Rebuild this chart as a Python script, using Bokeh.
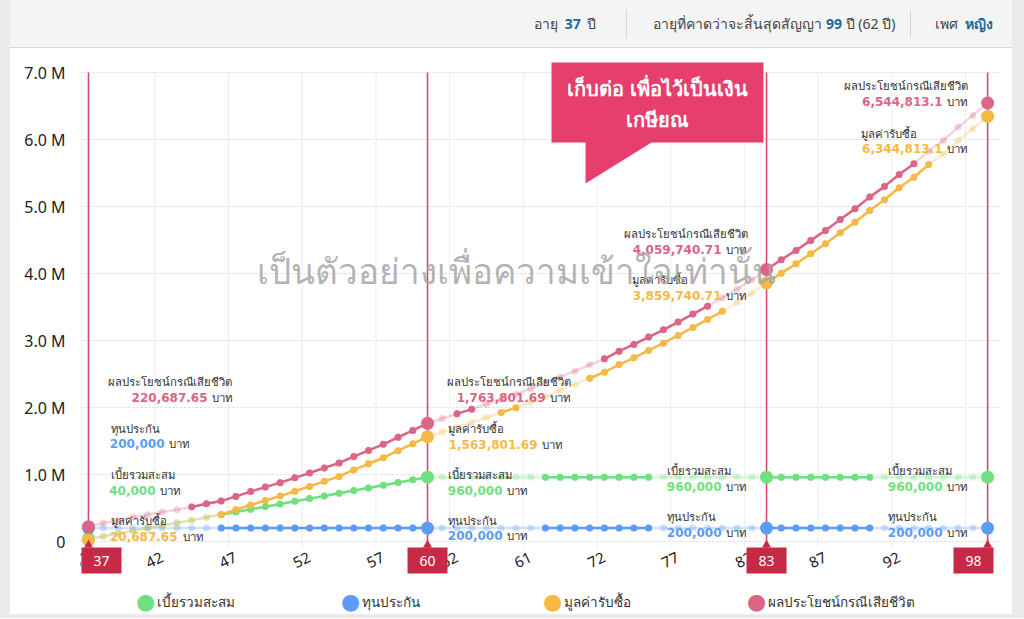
from bokeh.plotting import figure
from bokeh.models import Range1d, FixedTicker, Label, Div
from bokeh.layouts import column, row
from bokeh.embed import file_html
from bokeh.resources import INLINE

# ---------------- data ----------------
ages = list(range(37, 99))

series_names = ["เบี้ยรวมสะสม", "ทุนประกัน", "มูลค่ารับซื้อ", "ผลประโยชน์กรณีเสียชีวิต"]

premium_total = [
    40000, 80000, 120000, 160000, 200000, 240000, 280000, 320000, 360000, 400000,
    440000, 480000, 520000, 560000, 600000, 640000, 680000, 720000, 760000, 800000,
    840000, 880000, 920000, 960000, 960000, 960000, 960000, 960000, 960000, 960000,
    960000, 960000, 960000, 960000, 960000, 960000, 960000, 960000, 960000, 960000,
    960000, 960000, 960000, 960000, 960000, 960000, 960000, 960000, 960000, 960000,
    960000, 960000, 960000, 960000, 960000, 960000, 960000, 960000, 960000, 960000,
    960000, 960000,
]

sum_assured = [
    200000, 200000, 200000, 200000, 200000, 200000, 200000, 200000, 200000, 200000,
    200000, 200000, 200000, 200000, 200000, 200000, 200000, 200000, 200000, 200000,
    200000, 200000, 200000, 200000, 200000, 200000, 200000, 200000, 200000, 200000,
    200000, 200000, 200000, 200000, 200000, 200000, 200000, 200000, 200000, 200000,
    200000, 200000, 200000, 200000, 200000, 200000, 200000, 200000, 200000, 200000,
    200000, 200000, 200000, 200000, 200000, 200000, 200000, 200000, 200000, 200000,
    200000, 200000,
]

cash_value = [
    20687.65, 75000, 115000, 162000, 199000, 239000, 275000, 315000, 362000, 403000,
    473000, 545000, 612000, 678000, 750000, 822000, 898000, 972000, 1068000, 1160000,
    1250000, 1355000, 1458000, 1563801.69, 1635000, 1705000, 1775000, 1850000, 1925000, 1998000,
    2080000, 2165000, 2255000, 2345000, 2437000, 2527000, 2640000, 2742000, 2851000, 2960000,
    3075000, 3195000, 3313000, 3437000, 3568000, 3705000, 3859740.71, 4005000, 4145000, 4294000,
    4443000, 4607000, 4766000, 4940000, 5100000, 5279000, 5437000, 5627000, 5786000, 5985000,
    6160000, 6344813.1,
]

death_benefit = [
    220687.65, 275000, 315000, 362000, 399000, 439000, 475000, 515000, 562000, 603000,
    673000, 745000, 812000, 878000, 950000, 1022000, 1098000, 1172000, 1268000, 1360000,
    1450000, 1555000, 1658000, 1763801.69, 1835000, 1905000, 1975000, 2050000, 2125000, 2198000,
    2280000, 2365000, 2455000, 2545000, 2637000, 2727000, 2840000, 2942000, 3051000, 3160000,
    3275000, 3395000, 3513000, 3637000, 3768000, 3905000, 4059740.71, 4205000, 4345000, 4494000,
    4643000, 4807000, 4966000, 5140000, 5300000, 5479000, 5637000, 5827000, 5986000, 6185000,
    6360000, 6544813.1,
]

milestone_ages = [37, 60, 83, 98]

x_tick_values = [37, 42, 47, 52, 57, 62, 67, 72, 77, 82, 87, 92, 97]
x_tick_labels = ["37", "42", "47", "52", "57", "62", "61", "72", "77", "82", "87", "92", "97"]
y_tick_values = [0, 1000000, 2000000, 3000000, 4000000, 5000000, 6000000, 7000000]
y_tick_labels = ["0", "1.0 M", "2.0 M", "3.0 M", "4.0 M", "5.0 M", "6.0 M", "7.0 M"]

header_age = 37
header_end_age = 99
header_years = 62
header_sex = "หญิง"

callout_lines = ["เก็บต่อ เพื่อไว้เป็นเงิน", "เกษียณ"]
watermark_text = "เป็นตัวอย่างเพื่อความเข้าใจเท่านั้น"
unit_text = "บาท"

# ---------------- style / layout ----------------
GREEN, BLUE, ORANGE, PINK = "#6fe07f", "#5c9cf6", "#f6b947", "#db6584"
series_values = [premium_total, sum_assured, cash_value, death_benefit]
series_colors = [GREEN, BLUE, ORANGE, PINK]
# age ranges drawn at full opacity (the rest of each line is faded)
highlight_ranges = [
    [(46, 60), (68, 75), (83, 90)],
    [(46, 60), (68, 75), (83, 90)],
    [(46, 60), (65, 66), (71, 80), (83, 94)],
    [(44, 60), (62, 63), (72, 79), (83, 93)],
]

FONT = "Noto Sans"
TXT = "#333333"
RED = "#c72a47"
PAGE_BG = "#ebebeb"

# page-pixel mapping (figure occupies page x 10..1012, y 48..614)
PX_YEAR = 14.74
AGE0_X = 88.0
ZERO_Y = 541.0
PX_M = 67.0


def dx(px):
    return ages[0] + (px - AGE0_X) / PX_YEAR


def dy(py):
    return (ZERO_Y - py) / PX_M * 1e6


def fmt(v):
    return f"{v:,.2f}".rstrip("0").rstrip(".")


FIG_W, FIG_H = 1002, 566
p = figure(
    width=FIG_W, height=FIG_H,
    x_range=Range1d(dx(80), dx(1000)),
    y_range=Range1d(dy(614), dy(58)),
    x_axis_type=None,
    output_backend="svg", toolbar_location=None,
    min_border_left=70, min_border_right=12, min_border_top=10, min_border_bottom=0,
    background_fill_color="white", border_fill_color="white",
)
p.outline_line_color = None

# y axis
p.yaxis.ticker = FixedTicker(ticks=y_tick_values)
p.yaxis.major_label_overrides = dict(zip(y_tick_values, y_tick_labels))
p.yaxis.axis_line_color = None
p.yaxis.major_tick_line_color = None
p.yaxis.minor_tick_line_color = None
p.yaxis.major_tick_out = 0
p.yaxis.major_tick_in = 0
p.yaxis.major_label_standoff = 15
p.yaxis.major_label_text_font = FONT
p.yaxis.major_label_text_font_size = "16px"
p.yaxis.major_label_text_color = "#222222"

p.ygrid.ticker = FixedTicker(ticks=y_tick_values)
p.ygrid.grid_line_color = "#d9d9d9"
p.ygrid.grid_line_dash = "2 2"

top_val = y_tick_values[-1]
bottom_val = dy(548)

# vertical grid lines (between categories)
grid_x = [t - 0.5 for t in x_tick_values]
p.segment(x0=grid_x, y0=[bottom_val] * len(grid_x), x1=grid_x, y1=[top_val] * len(grid_x),
          line_color="#eeeeee", line_width=1)

# x tick labels (rotated)
for t, lab in zip(x_tick_values, x_tick_labels):
    p.add_layout(Label(x=t, y=dy(556), text=lab, angle=0.45, text_color="#222222",
                       text_font=FONT, text_font_size="15px",
                       text_align="right", text_baseline="middle"))

# milestone vertical lines
p.segment(x0=milestone_ages, y0=[bottom_val] * len(milestone_ages),
          x1=milestone_ages, y1=[top_val] * len(milestone_ages),
          line_color="#d84a6c", line_width=1.6)

# series
for vals, col, ranges in zip(series_values, series_colors, highlight_ranges):
    p.line(ages, vals, line_color=col, line_width=2.5, line_alpha=0.28)
    p.scatter(ages, vals, size=7, fill_color=col, line_color=None, fill_alpha=0.28)
    for a, b in ranges:
        i0, i1 = ages.index(a), ages.index(b) + 1
        p.line(ages[i0:i1], vals[i0:i1], line_color=col, line_width=2.5)
        p.scatter(ages[i0:i1], vals[i0:i1], size=7, fill_color=col, line_color=None)
    idx = [ages.index(m) for m in milestone_ages]
    p.scatter([ages[i] for i in idx], [vals[i] for i in idx], size=13,
              fill_color=col, line_color=None)

# bottom milestone markers (pointer + box)
p.scatter(milestone_ages, [dy(544.5)] * len(milestone_ages), marker="triangle",
          size=9, fill_color=RED, line_color=None)
for m in milestone_ages:
    mx = AGE0_X + (m - ages[0]) * PX_YEAR
    cx = min(max(mx, 80 + 21), 994 - 21)
    p.add_layout(Label(x=dx(cx), y=dy(560), text=str(m), text_color="white",
                       text_font=FONT, text_font_size="14px",
                       text_align="center", text_baseline="middle",
                       background_fill_color=RED,
                       padding=dict(left=12, right=12, top=8, bottom=8)))

# value annotations at milestones: (title_x, title_align, value_end_x, unit_x, title_y, value_y)
annot = {
    37: {3: (231, "right", 207, 211, 381, 397), 1: (110, "left", 164, 168, 428, 443),
         0: (110, "left", 155, 159, 474, 490), 2: (110, "left", 177, 182, 520, 536)},
    60: {3: (570, "right", 545, 549, 381, 397), 2: (447, "left", 537, 541, 428, 444),
         0: (447, "left", 502, 506, 474, 490), 1: (447, "left", 502, 506, 520, 535)},
    83: {3: (747, "right", 721, 725, 233, 249), 2: (631, "left", 721, 725, 279, 295),
         0: (666, "left", 721, 725, 470, 486), 1: (666, "left", 721, 725, 516, 532)},
    98: {3: (967, "right", 942, 946, 85, 101), 2: (860, "left", 942, 946, 133, 148),
         0: (887, "left", 942, 946, 470, 486), 1: (887, "left", 942, 946, 516, 532)},
}
for m, groups in annot.items():
    i = ages.index(m)
    for s, (tx, talign, vend, ux, ty, vy) in groups.items():
        p.add_layout(Label(x=dx(tx), y=dy(ty), text=series_names[s], text_color=TXT,
                           text_font=FONT, text_font_size="11.3px",
                           text_align=talign, text_baseline="middle"))
        p.add_layout(Label(x=dx(vend), y=dy(vy), text=fmt(series_values[s][i]),
                           text_color=series_colors[s], text_font="DejaVu Sans",
                           text_font_size="12px", text_font_style="bold",
                           text_align="right", text_baseline="middle"))
        p.add_layout(Label(x=dx(ux), y=dy(vy), text=unit_text, text_color=TXT,
                           text_font=FONT, text_font_size="11.5px",
                           text_align="left", text_baseline="middle"))

# watermark
p.add_layout(Label(x=dx(516), y=dy(270), text=watermark_text, text_color="#a6a6a6",
                   text_alpha=0.85, text_font=FONT, text_font_size="35px",
                   text_align="center", text_baseline="middle"))

# callout
cx_pts = [551, 763, 763, 651, 585, 585, 551]
cy_pts = [62, 62, 142, 142, 183, 142, 142]
p.patch([dx(v) for v in cx_pts], [dy(v) for v in cy_pts], fill_color="#e63e6d",
        line_color=None)
for k, line in enumerate(callout_lines):
    p.add_layout(Label(x=dx(657), y=dy(88 + 31 * k), text=line, text_color="white",
                       text_font=FONT, text_font_size="20px", text_font_style="bold",
                       text_align="center", text_baseline="middle"))

# legend (drawn manually below the chart)
legend_x = [145, 350, 552, 756]
for name, col, lx in zip(series_names, series_colors, legend_x):
    p.add_layout(Label(x=dx(lx), y=dy(601), text="●", text_color=col,
                       text_font="DejaVu Sans", text_font_size="22px",
                       text_align="center", text_baseline="middle"))
    p.add_layout(Label(x=dx(lx + 11), y=dy(601), text=name, text_color=TXT,
                       text_font=FONT, text_font_size="13.5px",
                       text_align="left", text_baseline="middle"))

# header
num = "font-weight:bold;color:#1f6a98"


def sep(ml, mr):
    return (f'<span style="display:inline-block;width:1px;height:28px;background:#d6d6d6;'
            f'margin:0 {mr}px 0 {ml}px"></span>')


header_html = (
    f'<div style="width:1024px;height:48px;background:{PAGE_BG};">'
    '<div style="margin-left:10px;width:1002px;height:48px;box-sizing:border-box;background:#f4f4f4;'
    'border-bottom:1px solid #d8d8d8;display:flex;justify-content:flex-end;align-items:center;'
    "padding-right:19px;font-family:'Noto Sans',sans-serif;font-size:14px;color:#444\">"
    f'<span style="word-spacing:3px">อายุ <span style="{num}">{header_age}</span> ปี</span>{sep(30, 26)}'
    f'<span>อายุที่คาดว่าจะสิ้นสุดสัญญา <span style="{num}">{header_end_age}</span> ปี ({header_years} ปี)</span>{sep(15, 24)}'
    f'<span style="word-spacing:3px">เพศ <span style="{num}">{header_sex}</span></span></div></div>'
)
header = Div(text=header_html, width=1024, height=48, margin=(0, 0, 0, 0))
left_strip = Div(text="", width=10, height=FIG_H, margin=(0, 0, 0, 0),
                 styles={"background-color": PAGE_BG})
right_strip = Div(text="", width=12, height=FIG_H, margin=(0, 0, 0, 0),
                  styles={"background-color": PAGE_BG})
bottom_strip = Div(text="", width=1024, height=4, margin=(0, 0, 0, 0),
                   styles={"background-color": PAGE_BG})

layout = column(header, row(left_strip, p, right_strip, spacing=0), bottom_strip, spacing=0)
open("out.html", "w").write(file_html(layout, INLINE))
